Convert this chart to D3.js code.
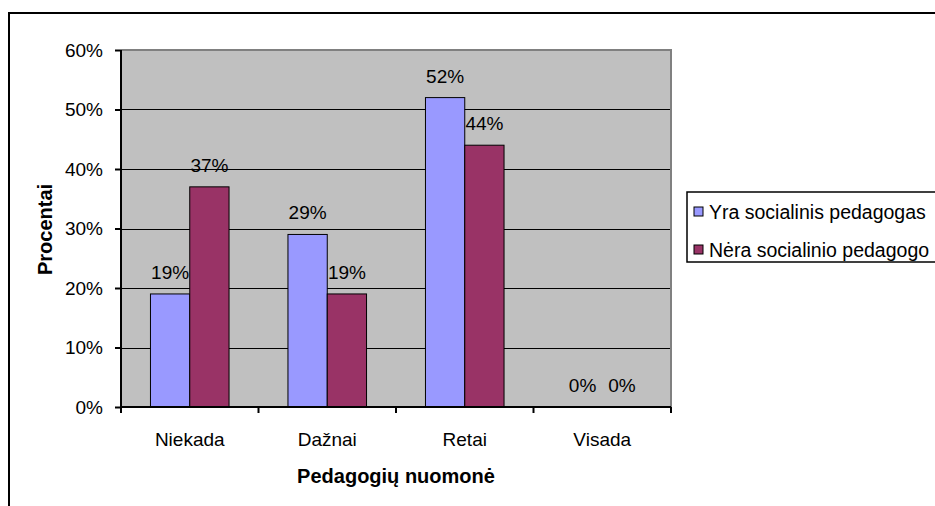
<!DOCTYPE html>
<html>
<head>
<meta charset="utf-8">
<script src="https://cdn.jsdelivr.net/npm/d3@7"></script>
<style>
  html, body { margin: 0; padding: 0; background: #fff; }
  svg { display: block; font-family: "Liberation Sans", Arial, sans-serif; }
</style>
</head>
<body>
<svg id="chart" width="935" height="506"></svg>
<script>
const categories = ["Niekada", "Dažnai", "Retai", "Visada"];
const seriesNames = ["Yra socialinis pedagogas", "Nėra socialinio pedagogo"];
const seriesYra = [19, 29, 52, 0];
const seriesNera = [37, 19, 44, 0];
const yTicks = [0, 10, 20, 30, 40, 50, 60];
const colors = ["#9999FF", "#993366"];
const xTitle = "Pedagogių nuomonė";
const yTitle = "Procentai";

const svg = d3.select("#chart");
const plot = { left: 121, right: 671, top: 50, bottom: 407 };

// outer frame (extends past the image on right and bottom)
svg.append("rect").attr("x", 9).attr("y", 13).attr("width", 960).attr("height", 540)
  .attr("fill", "#fff").attr("stroke", "#000").attr("stroke-width", 2);

const x0 = d3.scaleBand().domain(categories).range([plot.left, plot.right]).padding(0);
const bw = x0.bandwidth();
const barW = bw / 3.5;
const gap = 0.75 * barW;
const x1 = d3.scaleBand().domain(seriesNames).range([gap, bw - gap]).padding(0);
const y = d3.scaleLinear().domain([0, 60]).range([plot.bottom, plot.top]);

// plot area
svg.append("rect").attr("x", plot.left).attr("y", plot.top)
  .attr("width", plot.right - plot.left).attr("height", plot.bottom - plot.top)
  .attr("fill", "#C0C0C0");

// gridlines
svg.append("g").selectAll("line").data(yTicks.filter(t => t > 0 && t < 60)).join("line")
  .attr("x1", plot.left).attr("x2", plot.right)
  .attr("y1", d => Math.round(y(d)) + 0.5).attr("y2", d => Math.round(y(d)) + 0.5)
  .attr("stroke", "#000").attr("stroke-width", 1);

// plot border top/right (gray)
svg.append("path")
  .attr("d", `M${plot.left},${plot.top} H${plot.right} V${plot.bottom}`)
  .attr("fill", "none").attr("stroke", "#808080").attr("stroke-width", 2);

// bars
const data = categories.map((c, i) => ({ cat: c, vals: [seriesYra[i], seriesNera[i]] }));
const groups = svg.append("g").selectAll("g").data(data).join("g")
  .attr("transform", d => `translate(${x0(d.cat)},0)`);
groups.selectAll("rect").data(d => d.vals.map((v, k) => ({ v, k })).filter(e => e.v > 0)).join("rect")
  .attr("x", e => x1(seriesNames[e.k]))
  .attr("width", x1.bandwidth())
  .attr("y", e => y(e.v))
  .attr("height", e => y(0) - y(e.v))
  .attr("fill", e => colors[e.k])
  .attr("stroke", "#000").attr("stroke-width", 1);
groups.selectAll("text").data(d => d.vals.map((v, k) => ({ v, k }))).join("text")
  .attr("x", e => x1(seriesNames[e.k]) + x1.bandwidth() / 2)
  .attr("y", e => y(e.v) - 15)
  .attr("text-anchor", "middle")
  .attr("font-size", 19).attr("fill", "#000")
  .text(e => e.v + "%");

// y axis
const yAxis = d3.axisLeft(y).tickValues(yTicks).tickSize(6).tickPadding(12).tickFormat(d => d + "%");
const gy = svg.append("g").attr("transform", `translate(${plot.left},0)`).call(yAxis);
gy.select(".domain").attr("stroke", "#000").attr("stroke-width", 2).attr("d", `M0,${plot.top}V${plot.bottom}`);
gy.selectAll(".tick line").attr("stroke", "#000").attr("stroke-width", 2);
gy.selectAll(".tick text").attr("font-size", 19).attr("font-family", "Liberation Sans, Arial, sans-serif").attr("fill", "#000");

// x axis
const gx = svg.append("g").attr("transform", `translate(0,${plot.bottom})`);
gx.append("line").attr("x1", plot.left).attr("x2", plot.right).attr("y1", 0).attr("y2", 0)
  .attr("stroke", "#000").attr("stroke-width", 2);
const bounds = categories.map(c => x0(c)).concat([plot.right]);
gx.selectAll("line.tk").data(bounds).join("line").attr("class", "tk")
  .attr("x1", d => d).attr("x2", d => d).attr("y1", 0).attr("y2", 6)
  .attr("stroke", "#000").attr("stroke-width", 2);
gx.selectAll("text").data(categories).join("text")
  .attr("x", d => x0(d) + bw / 2).attr("y", 39)
  .attr("text-anchor", "middle").attr("font-size", 19).attr("fill", "#000")
  .text(d => d);

// axis titles
svg.append("text").attr("x", (plot.left + plot.right) / 2).attr("y", 483)
  .attr("text-anchor", "middle").attr("font-size", 20).attr("font-weight", "bold")
  .text(xTitle);
svg.append("text").attr("transform", `translate(52,${(plot.top + plot.bottom) / 2 + 1}) rotate(-90)`)
  .attr("text-anchor", "middle").attr("font-size", 20).attr("font-weight", "bold")
  .text(yTitle);

// legend
const lg = svg.append("g");
lg.append("rect").attr("x", 687).attr("y", 192).attr("width", 260).attr("height", 70)
  .attr("fill", "#fff").attr("stroke", "#000").attr("stroke-width", 1.5);
const items = lg.selectAll("g").data(seriesNames).join("g")
  .attr("transform", (d, i) => `translate(0,${211.5 + i * 38})`);
items.append("rect").attr("x", 694).attr("y", -4.5).attr("width", 9).attr("height", 9)
  .attr("fill", (d, i) => colors[i]).attr("stroke", "#000").attr("stroke-width", 1);
items.append("text").attr("x", 709).attr("y", 7).attr("font-size", 19.5).attr("fill", "#000")
  .text(d => d);
</script>
</body>
</html>
